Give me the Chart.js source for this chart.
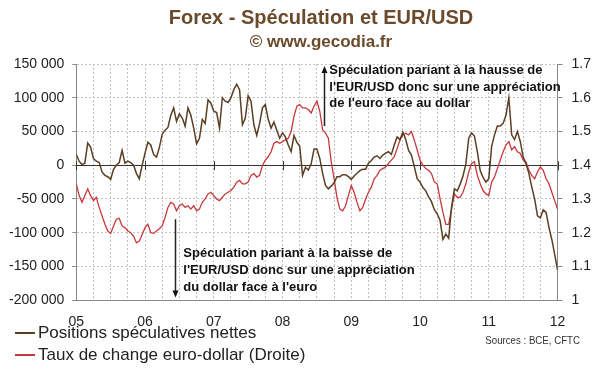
<!DOCTYPE html>
<html>
<head>
<meta charset="utf-8">
<script src="https://cdn.jsdelivr.net/npm/chart.js@4.4.1/dist/chart.umd.min.js"></script>
<style>
html, body { margin: 0; padding: 0; background: #fff; }
#wrap { width: 600px; height: 372px; }
</style>
</head>
<body>
<div id="wrap"><canvas id="forex-chart" width="600" height="372"></canvas></div>
<script>
// Forex - spéculation (CFTC) et EUR/USD, un point tous les demi-mois
const startYear = 2005;
const pointsPerYear = 24;
const yearLabels = ['05', '06', '07', '08', '09', '10', '11', '12'];
const seriesNames = ['Positions spéculatives nettes', 'Taux de change euro-dollar (Droite)'];

// positions spéculatives nettes (axe gauche)
const positions = [
  16000, 6000, 1000, 3000, 33000, 27000, 10000, 6000, 4000, -10000, -15000, -17000,
  -21000, -6000, 0, 4000, 22000, 3000, 6000, 4000, 0, -12000, -20000, 0,
  18000, 34000, 30000, 16000, 12000, 26000, 46000, 52000, 56000, 74000, 85000, 65000,
  76000, 70000, 58000, 85000, 74000, 55000, 32000, 40000, 68000, 62000, 97000, 92000,
  80000, 78000, 55000, 100000, 95000, 93000, 100000, 112000, 120000, 112000, 60000, 70000,
  103000, 95000, 60000, 44000, 62000, 85000, 90000, 68000, 55000, 64000, 52000, 40000,
  48000, 42000, 30000, 20000, 44000, 34000, 28000, -15000, -3000, -7000, 2000, 24000,
  24000, 10000, -12000, -30000, -35000, -31000, -26000, -17000, -17000, -14000, -14000, -17000,
  -21000, -16000, -12000, -8000, -6000, -6000, 3000, 7000, 12000, 14000, 10000, 15000,
  18000, 20000, 16000, 30000, 42000, 38000, 49000, 38000, 22000, 15000, -2000, -20000,
  -25000, -33000, -38000, -47000, -54000, -66000, -72000, -82000, -110000, -102000, -108000, -62000,
  -35000, -38000, -28000, -16000, 2000, 40000, 48000, 43000, 20000, -8000, -18000, -25000,
  -20000, 28000, 45000, 58000, 58000, 62000, 74000, 100000, 45000, 38000, 50000, 35000,
  12000, 2000, -12000, -32000, -50000, -75000, -78000, -66000, -70000, -92000, -110000, -132000,
  -155000
];

// EUR/USD (axe droit)
const eurusd = [
  1.345, 1.31, 1.29, 1.31, 1.33, 1.31, 1.295, 1.305, 1.275, 1.25, 1.225, 1.205,
  1.198, 1.22, 1.24, 1.243, 1.22, 1.215, 1.205, 1.20, 1.19, 1.17, 1.175, 1.195,
  1.215, 1.225, 1.20, 1.198, 1.205, 1.212, 1.22, 1.245, 1.275, 1.29, 1.285, 1.265,
  1.28, 1.285, 1.275, 1.28, 1.27, 1.28, 1.265, 1.27, 1.29, 1.30, 1.315, 1.32,
  1.31, 1.30, 1.295, 1.305, 1.315, 1.32, 1.325, 1.335, 1.35, 1.355, 1.345, 1.345,
  1.35, 1.37, 1.375, 1.365, 1.37, 1.40, 1.415, 1.425, 1.44, 1.465, 1.47, 1.465,
  1.47, 1.475, 1.48, 1.50, 1.545, 1.575, 1.58, 1.57, 1.57, 1.565, 1.555, 1.575,
  1.59, 1.56, 1.505, 1.495, 1.48, 1.41, 1.36, 1.305, 1.27, 1.265, 1.28, 1.31,
  1.34, 1.32, 1.29, 1.265, 1.275, 1.30, 1.32, 1.335, 1.36, 1.37, 1.385, 1.39,
  1.395, 1.405, 1.415, 1.425, 1.45, 1.475, 1.49, 1.495, 1.49, 1.50, 1.475, 1.445,
  1.415, 1.40, 1.39, 1.385, 1.375, 1.35, 1.345, 1.30, 1.26, 1.225, 1.225, 1.27,
  1.315, 1.305, 1.305, 1.32, 1.345, 1.38, 1.405, 1.41, 1.37, 1.345, 1.325, 1.315,
  1.31, 1.35, 1.365, 1.39, 1.415, 1.44, 1.46, 1.47, 1.445, 1.455, 1.44, 1.435,
  1.415, 1.41, 1.385, 1.37, 1.36, 1.38, 1.395, 1.385, 1.36, 1.345, 1.32, 1.295,
  1.27
];

const brown = '#5a3f22';
const red = '#c8383a';
const FONT = '"Liberation Sans", Arial, sans-serif';

function toPoints(values) {
    return values.map((v, i) => ({ x: startYear + i / pointsPerYear, y: v }));
}

function formatThousands(v) {
    const s = String(Math.abs(v)).replace(/\B(?=(\d{3})+(?!\d))/g, ' ');
    return (v < 0 ? '-' : '') + s;
}

function drawArrow(ctx, x, y1, y2) {
    // flèche de y1 vers y2, pointe en y2
    const dir = y2 < y1 ? -1 : 1;
    ctx.beginPath();
    ctx.moveTo(x, y1);
    ctx.lineTo(x, y2 - dir * 5);
    ctx.stroke();
    ctx.beginPath();
    ctx.moveTo(x, y2);
    ctx.lineTo(x - 3, y2 - dir * 7);
    ctx.lineTo(x + 3, y2 - dir * 7);
    ctx.closePath();
    ctx.fill();
}

const decorations = {
    id: 'decorations',
    beforeDatasetsDraw(chart) {
        // petites graduations annuelles sur l'axe zéro
        const { ctx, scales: { x, y } } = chart;
        const y0 = y.getPixelForValue(0);
        ctx.save();
        ctx.strokeStyle = '#333';
        ctx.lineWidth = 1;
        for (let yr = startYear; yr <= startYear + 7; yr++) {
            const px = Math.round(x.getPixelForValue(yr)) + 0.5;
            ctx.beginPath();
            ctx.moveTo(px, y0 - 4);
            ctx.lineTo(px, y0 + 5);
            ctx.stroke();
        }
        ctx.restore();
    },
    afterDraw(chart) {
        const { ctx, scales: { x, y } } = chart;
        ctx.save();

        // titre
        ctx.fillStyle = '#6b4a2b';
        ctx.textAlign = 'center';
        ctx.textBaseline = 'middle';
        ctx.font = 'bold 20px ' + FONT;
        ctx.fillText('Forex - Spéculation et EUR/USD', 321, 18);
        ctx.font = 'bold 17px ' + FONT;
        ctx.fillText('© www.gecodia.fr', 321, 42);

        // annotations
        ctx.fillStyle = '#111';
        ctx.strokeStyle = '#222';
        ctx.lineWidth = 1.5;
        ctx.textAlign = 'left';
        ctx.font = 'bold 13px ' + FONT;

        const ax1 = Math.round(x.getPixelForValue(2008.6)) + 0.5;
        drawArrow(ctx, ax1, y.getPixelForValue(58000), y.getPixelForValue(147000));
        const upText = ['Spéculation pariant à la hausse de', "l'EUR/USD donc sur une appréciation", "de l'euro face au dollar"];
        const tx1 = x.getPixelForValue(2008.68);
        const ty1 = y.getPixelForValue(140600);
        upText.forEach((t, i) => ctx.fillText(t, tx1, ty1 + i * 16.7));

        const ax2 = Math.round(x.getPixelForValue(2006.434)) + 0.5;
        drawArrow(ctx, ax2, y.getPixelForValue(-80000), y.getPixelForValue(-196000));
        const downText = ['Spéculation pariant à la baisse de', "l'EUR/USD donc sur une appréciation", "du dollar face à l'euro"];
        const tx2 = x.getPixelForValue(2006.557);
        const ty2 = y.getPixelForValue(-130200);
        downText.forEach((t, i) => ctx.fillText(t, tx2, ty2 + i * 17.4));

        // légende
        ctx.font = '17px ' + FONT;
        ctx.fillStyle = '#222';
        [brown, red].forEach((c, i) => {
            const ly = 333 + i * 22;
            ctx.strokeStyle = c;
            ctx.lineWidth = 2;
            ctx.beginPath();
            ctx.moveTo(15, ly);
            ctx.lineTo(35, ly);
            ctx.stroke();
            ctx.fillText(seriesNames[i], 38, ly);
        });

        // source (police étroite)
        ctx.font = '11px ' + FONT;
        ctx.fillStyle = '#333';
        ctx.textAlign = 'right';
        ctx.translate(580, 341);
        ctx.scale(0.88, 1);
        ctx.fillText('Sources : BCE, CFTC', 0, 0);
        ctx.restore();
    }
};

const canvas = document.getElementById('forex-chart');
new Chart(canvas, {
    type: 'line',
    data: {
        datasets: [{
            label: seriesNames[0],
            data: toPoints(positions),
            borderColor: brown,
            borderWidth: 1.5,
            pointRadius: 0,
            yAxisID: 'y'
        }, {
            label: seriesNames[1],
            data: toPoints(eurusd),
            borderColor: red,
            borderWidth: 1.3,
            pointRadius: 0,
            yAxisID: 'y1'
        }]
    },
    options: {
        responsive: false,
        animation: false,
        layout: { padding: { top: 64, left: 1, right: 0, bottom: 27 } },
        plugins: {
            legend: { display: false },
            tooltip: { enabled: false }
        },
        scales: {
            x: {
                type: 'linear',
                min: startYear,
                max: startYear + 7,
                ticks: {
                    stepSize: 0.25,
                    autoSkip: false,
                    maxRotation: 0,
                    padding: 14,
                    color: '#222',
                    font: { family: FONT, size: 14 },
                    callback: v => Number.isInteger(v) ? yearLabels[v - startYear] : ''
                },
                grid: { color: '#c2c2c2', drawTicks: false },
                border: { color: '#888', dash: [2, 2] }
            },
            y: {
                position: 'left',
                min: -200000,
                max: 150000,
                ticks: {
                    stepSize: 50000,
                    padding: 8,
                    color: '#222',
                    font: { family: FONT, size: 14 },
                    callback: v => formatThousands(v)
                },
                grid: {
                    color: c => c.tick && c.tick.value === 0 ? '#333' : '#c2c2c2',
                    tickColor: '#888',
                    tickLength: 4
                },
                border: {
                    color: '#888',
                    dash: c => c.tick && c.tick.value === 0 ? [] : [2, 2]
                }
            },
            y1: {
                position: 'right',
                min: 1,
                max: 1.7,
                ticks: {
                    stepSize: 0.1,
                    padding: 9,
                    color: '#222',
                    font: { family: FONT, size: 14 },
                    callback: v => String(Math.round(v * 10) / 10)
                },
                grid: { drawOnChartArea: false, tickColor: '#888', tickLength: 5 },
                border: { color: '#888' }
            }
        }
    },
    plugins: [decorations]
});
</script>
</body>
</html>
